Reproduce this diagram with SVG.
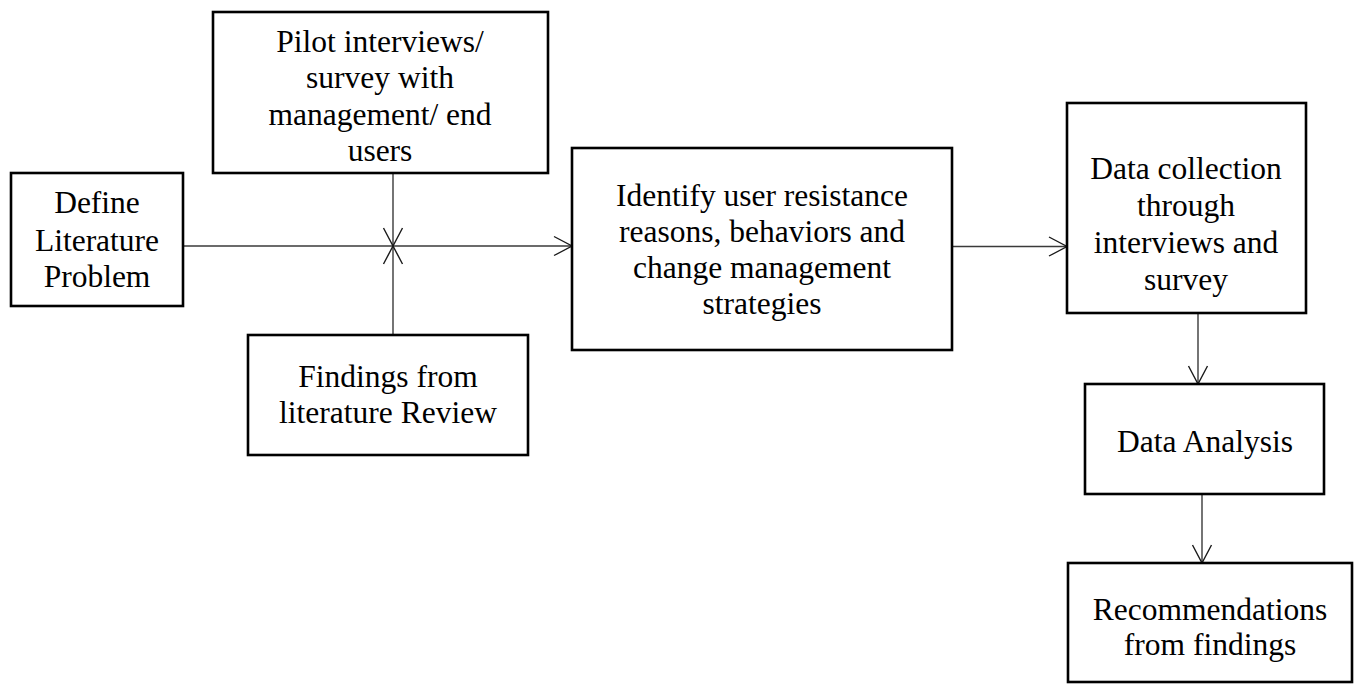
<svg xmlns="http://www.w3.org/2000/svg" width="1356" height="684" viewBox="0 0 1356 684">
  <style>
    .box { fill: #ffffff; stroke: #000000; stroke-width: 2.6; }
    .lbl { font-family: "Liberation Serif", "Times New Roman", serif; font-size: 31.5px; fill: #000000; text-anchor: middle; }
    .link { fill: none; stroke: #3a3a3a; stroke-width: 1.4; }
  </style>
  <defs>
    <marker id="open-arrow" viewBox="0 0 20 22" refX="19" refY="11" markerWidth="20" markerHeight="22" markerUnits="userSpaceOnUse" orient="auto">
      <path d="M1,1.5 L19,11 L1,20.5" fill="none" stroke="#1a1a1a" stroke-width="1.4"/>
    </marker>
  </defs>
  <rect width="1356" height="684" fill="#ffffff"/>

  <g id="connectors">
    <path class="link" d="M183,246 L572,246" marker-end="url(#open-arrow)"/>
    <path class="link" d="M393,173 L393,246" marker-end="url(#open-arrow)"/>
    <path class="link" d="M393,335 L393,246" marker-end="url(#open-arrow)"/>
    <path class="link" d="M952,246.5 L1067,246.5" marker-end="url(#open-arrow)"/>
    <path class="link" d="M1198,313 L1198,384" marker-end="url(#open-arrow)"/>
    <path class="link" d="M1202,494 L1202,563" marker-end="url(#open-arrow)"/>
  </g>

  <g id="define-problem">
    <rect class="box" x="11" y="173" width="172" height="133"/>
    <text class="lbl" x="97" y="213">Define</text>
    <text class="lbl" x="97" y="251">Literature</text>
    <text class="lbl" x="97" y="287">Problem</text>
  </g>

  <g id="pilot-interviews">
    <rect class="box" x="213" y="12" width="335" height="161"/>
    <text class="lbl" x="380" y="52">Pilot interviews/</text>
    <text class="lbl" x="380" y="88">survey with</text>
    <text class="lbl" x="380" y="125">management/ end</text>
    <text class="lbl" x="380" y="161">users</text>
  </g>

  <g id="literature-findings">
    <rect class="box" x="248" y="335" width="280" height="120"/>
    <text class="lbl" x="388" y="387">Findings from</text>
    <text class="lbl" x="388" y="423">literature Review</text>
  </g>

  <g id="identify-resistance">
    <rect class="box" x="572" y="148" width="380" height="202"/>
    <text class="lbl" x="762" y="206">Identify user resistance</text>
    <text class="lbl" x="762" y="242">reasons, behaviors and</text>
    <text class="lbl" x="762" y="278">change management</text>
    <text class="lbl" x="762" y="314">strategies</text>
  </g>

  <g id="data-collection">
    <rect class="box" x="1067" y="103" width="239" height="210"/>
    <text class="lbl" x="1186" y="179">Data collection</text>
    <text class="lbl" x="1186" y="216">through</text>
    <text class="lbl" x="1186" y="253">interviews and</text>
    <text class="lbl" x="1186" y="290">survey</text>
  </g>

  <g id="data-analysis">
    <rect class="box" x="1085" y="384" width="239" height="110"/>
    <text class="lbl" x="1205" y="452">Data Analysis</text>
  </g>

  <g id="recommendations">
    <rect class="box" x="1068" y="563" width="284" height="119"/>
    <text class="lbl" x="1210" y="620">Recommendations</text>
    <text class="lbl" x="1210" y="655">from findings</text>
  </g>
</svg>
